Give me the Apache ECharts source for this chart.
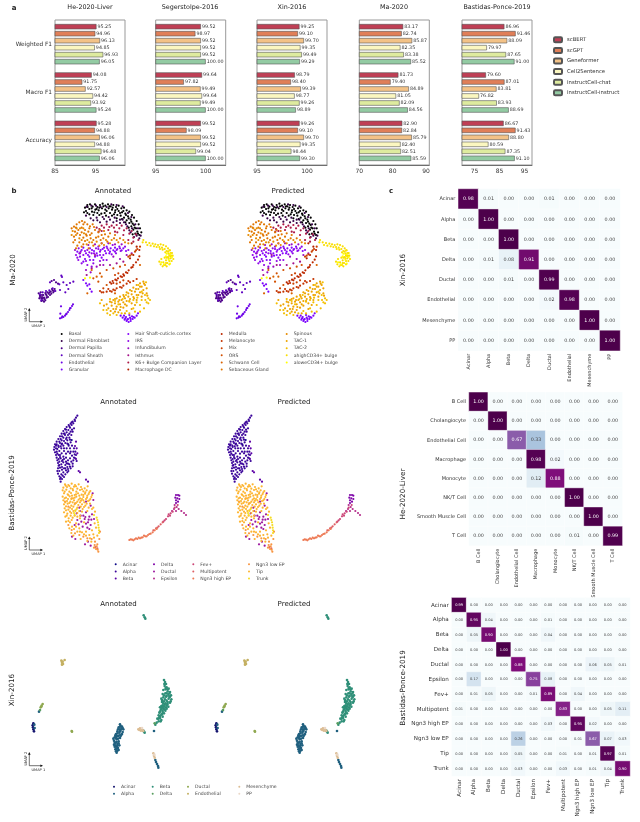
<!DOCTYPE html>
<html><head><meta charset="utf-8"><style>html,body{margin:0;padding:0;background:#fff}#c{width:640px;height:822px}</style>
<script src="https://cdn.jsdelivr.net/npm/echarts@6/dist/echarts.min.js"></script></head>
<body><div id="c"></div>
<script>
// ---- panel a
const metrics=['Weighted F1','Macro F1','Accuracy'];
const models=['scBERT','scGPT','Geneformer','Cell2Sentence','InstructCell-chat','InstructCell-instruct'];
const modelColors=['#bf3f55','#e07f58','#f3c287','#fbf7c0','#deeb9f','#93cba3'];
const heScores=[[95.25,94.96,96.13,94.85,96.93,96.05],[94.08,91.75,92.57,94.42,93.92,95.24],[95.28,94.88,96.06,94.88,96.48,96.06]];
const segScores=[[99.52,98.97,99.52,99.52,99.52,100.00],[99.64,97.82,99.49,99.64,99.49,100.00],[99.52,98.09,99.52,99.52,99.04,100.00]];
const xinScores=[[99.25,99.10,99.70,99.35,99.49,99.29],[98.79,98.40,99.39,98.77,99.26,98.89],[99.26,99.10,99.70,99.35,98.44,99.30]];
const maScores=[[83.17,82.74,85.87,82.35,83.38,85.52],[81.73,79.40,84.89,81.05,82.09,84.56],[82.90,82.84,85.79,82.40,82.51,85.59]];
const bpScores=[[86.96,91.46,88.09,79.97,87.65,91.00],[79.60,87.01,83.81,76.82,83.93,88.69],[86.67,91.43,88.80,80.59,87.35,91.10]];

// ---- panel c
const xinCells=['Acinar','Alpha','Beta','Delta','Ductal','Endothelial','Mesenchyme','PP'];
const xinMatrix=[[.98,.01,0,0,.01,0,0,0],[0,1,0,0,0,0,0,0],[0,0,1,0,0,0,0,0],[0,.01,.08,.91,0,0,0,0],[0,0,.01,0,.99,0,0,0],[0,0,0,0,.02,.98,0,0],[0,0,0,0,0,0,1,0],[0,0,0,0,0,0,0,1]];
const heCells=['B Cell','Cholangiocyte','Endothelial Cell','Macrophage','Monocyte','NK/T Cell','Smooth Muscle Cell','T Cell'];
const heMatrix=[[1,0,0,0,0,0,0,0],[0,1,0,0,0,0,0,0],[0,0,.67,.33,0,0,0,0],[0,0,0,.98,.02,0,0,0],[0,0,0,.12,.88,0,0,0],[0,0,0,0,0,1,0,0],[0,0,0,0,0,0,1,0],[0,0,0,0,0,.01,0,.99]];
const bpCells=['Acinar','Alpha','Beta','Delta','Ductal','Epsilon','Fev+','Multipotent','Ngn3 high EP','Ngn3 low EP','Tip','Trunk'];
const bpMatrix=[[.99,0,0,0,0,0,0,0,0,0,0,0],[0,.95,.04,0,0,0,.01,0,0,0,0,0],[0,.05,.90,0,0,0,.04,0,0,0,0,0],[0,0,0,1,0,0,0,0,0,0,0,0],[0,0,0,0,.88,0,0,0,0,.06,.05,.01],[0,.17,0,0,0,.75,.08,0,0,0,0,0],[0,.01,.05,0,0,.01,.89,0,.04,0,0,0],[.01,0,0,0,0,0,0,.83,0,0,.05,.11],[0,0,0,0,0,0,.03,0,.95,.02,0,0],[0,0,0,0,.26,0,0,0,.01,.67,.07,.03],[0,0,0,0,.05,0,0,.01,0,.01,.97,.01],[0,0,0,0,.03,0,0,.03,0,.01,.04,.90]];
const buPu=['#f7fcfd','#e0ecf4','#bfd3e6','#9ebcda','#8c96c6','#8c6bb1','#88419d','#810f7c','#4d004b'];

// ---- panel b: Ma-2020 embedding, [x,y,x,y,...]
const maNames=['Basal','Dermal Fibroblast','Dermal Papilla','Dermal Sheath','Endothelial','Granular','Hair Shaft-cuticle.cortex','IRS','Infundibulum','Isthmus','K6+ Bulge Companion Layer','Macrophage DC','Medulla','Melanocyte','Mix','ORS','Schwann Cell','Sebaceous Gland','Spinous','TAC-1','TAC-2','ahighCD34+ bulge','aloweCD34+ bulge'];
const maColors=['#000000','#360047','#4d008a','#5e01c1','#6d02e8','#7a03fc','#8505fc','#9008e8','#9a0cc1','#a31189','#ac1847','#b42000','#bc2900','#c43400','#cb4100','#d25000','#d96200','#e07500','#e68c00','#eda400','#f3bf00','#f9de00','#ffff00'];
const maBasal=[255,68,262,60,270,58,278,65,268,72,258,78,285,58,292,66,300,60,308,56,316,62,324,58,332,64,340,60,348,66,356,62,364,70,372,68,380,76,388,80,396,90,402,98,410,108,416,118,420,130,424,142,418,150,412,140,404,128,398,116,392,104,384,94,376,86,366,82,356,78,346,76,336,74,326,70,316,74,306,70,296,76,286,74,276,80,268,88,280,90,292,84,304,86,314,84,330,84,342,88,352,90,362,92,372,98,380,106,388,114,394,124,400,134,406,146,263,66,275,70,283,82,290,72,298,68,310,64,320,78,328,64,338,68,345,82,352,72,360,84,370,78,378,90,386,100,394,110,402,120,408,130,414,146,252,82,262,84,298,90,318,92,336,92,350,100,366,102,376,112,386,128,398,148];
const maFibro=[260,65,274,62,288,62,302,66,320,66,334,58,350,60,368,64,384,84,394,96,406,118,414,130,422,152,410,152,396,130,382,124,372,112,360,104,344,98,326,96,308,96,290,98,272,100,258,92,300,112,320,110,340,112,360,114,378,118,392,142,402,156,280,106,292,106,312,102,330,104,350,108,368,104,388,136,418,160];
const maPapilla=[116,325,120,332,124,340,128,346,134,342,140,332,146,326,152,320,158,316,164,312,130,330,122,322,136,324,150,330,144,336,126,336,118,340,132,350,160,322,155,288,162,285,168,292,174,296,120,336,126,330,132,338,138,328,142,322,156,312,162,318,124,348,128,340,136,346,140,338,148,322,154,326];
const maSheath=[178,298,190,292,200,300,210,294,220,290,196,322,205,312,180,315,150,292,184,272,186,276,120,328,128,322,138,318,148,316,158,310,166,318,124,345];
const maEndo=[180,400,185,398,190,396,195,392,200,386,204,381,208,375,212,369,216,363,219,358,183,364,181,386,187,394,198,388,210,370];
const maGranular=[368,398,374,404,380,408,386,411,392,408,398,402,404,398,410,392,384,402,390,398,378,396,396,394,372,392,250,285,258,295,262,302,270,312,275,320,268,298,388,390,382,404,376,400,392,402,400,396,362,392,414,385];
const maHair=[232,200,245,195,258,205,270,190,282,198,295,185,308,192,320,185,332,190,345,188,358,185,370,190,240,215,255,222,268,215,280,225,292,212,305,218,318,205,330,200,345,200,238,205,250,188,264,210,276,195,290,205,302,195,315,198,328,205,340,196,352,192,365,196,378,198,250,230,270,225,285,215,300,210];
const maIrs=[228,210,236,190,250,210,262,195,275,205,288,190,300,200,312,188,325,195,338,180,350,195,362,198,375,185,385,195,245,235,262,240,280,235,300,228,320,225,235,225,242,200,255,198,268,202,282,205,295,192,310,210,322,190,335,208,348,205,360,190,232,218,258,228,275,245,310,225];
const maInfund=[225,195,240,205,265,180,285,178,305,175,325,175,345,178,365,178,258,255,272,262,290,245,310,240,340,215,360,222,380,210,395,205];
const maIsthmus=[260,270,275,250,285,210,300,240,330,240,350,235,370,230];
const maK6=[290,128,305,122,320,118,335,122,350,120,365,122,380,130,395,138,408,148,415,165,400,170,385,165,370,150,345,140,325,135,305,138,298,132,312,128,328,126,342,128,358,130,372,136,388,146,400,158,352,142,296,140];
const maMacro=[395,175,410,185,418,195,400,210,390,220];
const maMedulla=[330,292,338,288,346,284,354,280,362,274,370,268,378,262,386,256,394,248,400,240,408,232,414,224,418,214,340,294,372,272,334,296,350,286,366,276,382,264,398,246];
const maMelano=[300,318,310,322,320,320,330,318,340,314,350,310,360,306,370,302,380,296,390,292,400,288,410,282,325,312,385,288,305,322,335,320,345,316,365,308];
const maMix=[385,215,395,208,405,200,412,192,420,185,345,270,355,265,350,296,360,292,370,286,310,310,390,212,408,196];
const maOrs=[300,265,320,255,340,250,360,245,375,240,280,280,295,290,320,300];
const maSchwann=[275,255,290,275,305,275,345,325,262,325,420,240];
const maSebaceous=[215,130,222,125,230,118,238,112,246,108,254,112,262,118,270,124,278,118,225,140,235,135,245,128,255,135,265,140,275,145,285,135,295,142,305,150,315,148,325,155,240,150,250,158,260,152,272,160,288,158,302,165,225,165,238,172,250,178,222,155,232,182,345,150,360,160,228,128,250,118,268,130,282,126,300,135,312,138,330,145,342,160,232,145,245,142,258,148,270,150,280,165,295,155,310,160,322,170,220,172,228,190,245,185,255,168,266,190,280,182];
const maSpinous=[218,138,228,150,240,130,252,145,262,165,276,172,290,170,305,175,318,165,335,165,350,165,370,165,385,175,215,150,245,165,260,178,230,130,250,130,238,160,268,172,298,182,312,180,330,175,355,172,375,172];
const maTac1=[320,358,330,350,340,345,350,340,360,335,370,330,380,322,390,315,400,308,410,300,420,295,430,290,325,370,335,362,345,355,355,350,365,345,375,340,385,335,395,328,405,320,415,312,425,305,435,300,340,372,350,365,360,358,370,352,380,348,390,342,400,336,410,330,420,322,430,315,440,310,345,380,360,375,370,368,380,362,395,355,410,345,425,335,440,325,305,345,312,362,335,352,345,342,358,345,372,335,385,325,395,318,408,312,420,305,432,296,332,378,348,372,362,366,375,358,388,348,402,340,415,330,428,325,405,360,395,372,375,385,355,382,442,332];
const maTac2=[330,342,345,348,355,358,368,342,378,330,388,350,400,345,412,338,425,320,435,330,445,340,440,352,420,360,400,370,380,378,365,385,350,390,340,385,420,380,432,370,445,355,300,355,310,375,322,385,415,300,438,292,450,345,330,390,320,375,410,352,425,345,436,345,405,380,388,385];
const maAhigh=[428,172,438,172,448,174,458,176,466,178,474,180,482,178,490,180,498,184,504,190,508,196,512,204,514,212,512,220,508,228,502,234,496,240,488,244,482,238,478,230,490,232,498,226,504,216,506,206,500,198,494,192,486,188,478,186,470,186,462,184,452,182,442,180,430,165,510,196,516,204,518,212,520,222,515,228,508,238,500,244,492,240,484,222,494,218,500,218,508,212,496,202,488,194,480,192,504,200,512,214,506,220,498,234];
const maAlow=[510,208,516,216,510,236,492,238,484,232,500,206,506,224,498,214,255,280,270,278];
const maPoints=[maBasal,maFibro,maPapilla,maSheath,maEndo,maGranular,maHair,maIrs,maInfund,maIsthmus,maK6,maMacro,maMedulla,maMelano,maMix,maOrs,maSchwann,maSebaceous,maSpinous,maTac1,maTac2,maAhigh,maAlow];

// ---- panel b: Bastidas-Ponce-2019 embedding
const bpColors=['#0d0887','#3a049a','#5c01a6','#7e03a8','#9c179e','#b52f8c','#cc4778','#de5f65','#ed7953','#f89540','#fdb42f','#f5dc20'];
const bpAcinar=[215,165,205,178];
const bpAlpha=[232,92,228,98,224,104,218,110,212,116,206,120,200,126,195,132,190,138,185,146,180,154,175,162,170,170,165,178,163,186,162,194,165,202,168,210,170,218,172,226,174,234,176,242,174,250,172,258,174,266,178,274,180,282,182,290,215,120,210,128,205,135,200,142,195,150,190,158,185,166,180,174,175,182,172,192,178,198,184,190,190,182,196,174,202,166,208,158,214,150,218,140,222,130,220,115,185,205,192,198,198,206,204,200,210,190,216,182,222,190,226,200,228,210,222,218,216,212,210,220,204,226,198,218,190,215,182,220,178,230,184,238,190,232,196,240,202,246,208,238,214,230,220,226,226,220,230,228,180,248,186,254,192,250,198,256,190,262,184,268,178,258,196,268,205,258,212,250,218,244,168,182,172,206,194,146,204,150,212,140,180,210,188,225,200,235,210,205,185,178,176,222,225,108,215,112,208,124,198,134,192,146,186,154,182,162,178,170,170,178,168,190,170,200,176,210,180,216,186,228,192,222,198,230,204,236,178,240,186,246,196,250,204,252,182,278,188,272,176,186,182,184,192,190,200,190,206,182,212,172,210,164,200,158,192,168,186,176,216,134,208,146,198,162,202,176,220,200,212,200,224,208,218,236,210,245,202,262,192,276,186,282];
const bpBeta=[225,183,230,190,228,170,232,205,228,222,236,258,240,262,258,284,264,290];
const bpDelta=[528,330,534,330,538,332,526,338,532,340,538,342,528,346,534,350,528,354];
const bpDuctal=[230,385,240,378,250,392,258,382,268,395,276,388,232,405,244,410,254,402,264,412,274,404,248,425,262,428,272,420,224,420,216,455,226,462,255,478,264,470,272,482,278,325,280,345,272,362,258,350,238,368,282,402,242,392,256,396,266,404,236,418,258,416,268,432];
const bpEpsilon=[524,360,530,366,536,372,544,378,552,384,558,390,516,378,522,372,528,378];
const bpFev=[512,385,504,394,518,380,498,402,490,410,510,392,524,368,533,360,506,388,494,406];
const bpMulti=[482,418,476,424,468,430,460,436,488,412,292,490,286,486,472,428];
const bpHigh=[388,465,396,464,404,463,412,462,420,460,428,457,436,454,444,450,452,446,458,442,464,436,470,432,400,466,416,458,432,452,392,463,408,460,424,458,440,454,448,447];
const bpLow=[195,350,205,365,215,340,225,355,205,420,215,435,225,445,238,450,250,455,262,460,275,462,285,470,292,478,288,492,295,500,284,480,298,462,300,440,290,484,293,494,282,488];
const bpTip=[195,298,205,300,215,296,225,300,236,298,190,308,201,306,212,310,222,305,232,311,243,306,254,310,263,304,188,316,199,314,208,320,219,316,229,320,240,315,250,319,260,316,271,318,192,325,203,328,213,324,224,330,234,325,245,329,255,326,266,327,276,330,188,335,198,338,209,334,219,340,229,335,240,340,250,336,261,338,271,342,190,346,201,348,211,350,222,346,232,350,243,347,253,352,264,348,192,358,203,356,214,362,224,358,235,360,246,358,256,362,266,368,276,372,194,370,205,374,216,372,226,376,238,378,248,372,280,368,192,382,202,386,214,384,224,392,240,392,262,378,285,380,196,395,206,400,218,398,240,400,252,412,284,415,198,410,210,412,222,432,238,430,258,440,276,436,288,428,208,430,214,444,232,440,246,442,268,450,280,448,292,452,220,452,242,462,258,452,270,460,282,458,197,302,208,303,218,312,228,304,246,313,256,322,268,322,194,320,205,330,216,332,228,328,238,332,250,330,262,332,274,336,194,340,204,342,214,342,224,338,236,344,246,342,258,342,268,346,196,352,208,354,218,352,228,354,240,352,250,346,260,356,270,356,198,364,210,368,220,365,232,368,242,365,252,366,198,376,210,380,220,378,232,384,246,380,200,392,212,392,232,395,205,408,215,405,228,415,216,425,228,425,240,440,252,448,262,468,274,470];
const bpTrunk=[226,378,230,372,222,384,290,398,292,405,294,412,295,420,296,428,297,436,297,444,224,390,282,390];
const bpPoints=[bpAcinar,bpAlpha,bpBeta,bpDelta,bpDuctal,bpEpsilon,bpFev,bpMulti,bpHigh,bpLow,bpTip,bpTrunk];

// ---- panel b: Xin-2016 embedding
const xinColors=['#14146e','#20607f','#2f8f78','#5a9e60','#8fa850','#c4b062','#dcbd94','#ead8c8'];
const xAcinar=[100,400,98,406,99,412,100,418,102,424];
const xAlpha=[360,403,366,410,356,412,370,418,362,420,352,424,368,426,358,428,348,432,364,434,354,438,344,442,360,444,350,448,342,452,356,454,346,458,352,462,342,464,358,466,348,470,354,474,346,478,352,482,350,488,356,480,362,408,364,416,358,418,348,438,340,446,466,510,468,516,471,522,474,528,475,533,462,423,103,404,104,414,117,365,360,410,368,414,354,418,360,424,366,432,352,430,358,436,346,436,362,438,348,444,354,446,356,460,344,458,350,456,346,466,352,468,350,476,344,470,348,484];
const xBeta=[431,76,434,82,436,86,492,270,495,276,498,282,494,288,500,292,506,296,497,298,490,300,503,304,510,306,496,310,488,312,505,314,513,316,498,320,490,322,484,326,506,326,514,328,500,332,492,334,486,336,510,338,503,342,494,344,484,348,480,352,498,352,490,356,505,350,482,360,496,362,488,366,478,368,492,370,484,374,476,376,488,380,480,384,472,386,484,390,476,394,470,398,466,404,432,425,434,428,430,422,500,310,508,320,490,340,487,352,478,382,493,282,497,294,503,298,508,310,492,316,500,318,510,320,486,330,495,328,503,336,512,334,497,340,488,346,500,346,492,350,484,356,500,356,488,362,480,365,494,358,486,372,480,378,476,386,482,394];
const xDelta=[464,400,120,360];
const xDuctal=[122,352,125,347,128,342,124,350,215,423,216,425];
const xEndo=[184,212,186,218,189,222,194,210,188,215,186,224];
const xMesen=[415,418,420,415,425,417,428,420,423,422,418,420,430,423,460,490,462,497,464,503];
const xPP=[426,414,463,494];
const xPoints=[xAcinar,xAlpha,xBeta,xDelta,xDuctal,xEndo,xMesen,xPP];

const F='"DejaVu Sans"',TC='#333';
const grids=[],xAxes=[],yAxes=[],series=[],legends=[],titles=[],graphics=[];
function addAxes(g,x,y){grids.push(g);const i=grids.length-1;xAxes.push(Object.assign({gridIndex:i},x));yAxes.push(Object.assign({gridIndex:i},y));return i;}
const pairs=f=>{const o=[];for(let i=0;i<f.length;i+=2)o.push([f[i],f[i+1]]);return o;};
const label=(text,x,y,fs,extra)=>titles.push({text,left:x,top:y-fs*0.6,padding:0,textAlign:'center',textStyle:Object.assign({fontSize:fs,fontWeight:'normal',color:'#222',fontFamily:F},extra||{})});

// bars
const barPanels=[
 {t:'He-2020-Liver',s:heScores,l:55,min:85,max:102.3,ticks:[85,90,95,100],labs:[85,95],tx:90},
 {t:'Segerstolpe-2016',s:segScores,l:155.7,min:95,max:102,ticks:[95,100],labs:[95,100],tx:190},
 {t:'Xin-2016',s:xinScores,l:257,min:95,max:102,ticks:[95,100],labs:[95,100],tx:292},
 {t:'Ma-2020',s:maScores,l:359.3,min:70,max:91,ticks:[70,80,90],labs:[70,80,90],tx:394},
 {t:'Bastidas-Ponce-2019',s:bpScores,l:462,min:70,max:98,ticks:[75,85,95],labs:[75,85,95],tx:497}];
barPanels.forEach((p,k)=>{
 const g=addAxes({left:p.l,top:20,width:70,height:145,show:true,borderColor:'#999',borderWidth:1},
  {type:'value',min:p.min,max:p.max,splitLine:{show:false},axisLine:{show:true,lineStyle:{color:'#555',width:.8}},
   axisTick:{length:1.5,lineStyle:{color:'#444',width:.5},customValues:p.ticks},axisLabel:{fontSize:6,margin:3,color:TC,customValues:p.labs,fontFamily:F}},
  {type:'category',inverse:true,data:metrics,axisLine:{show:false},axisTick:{length:1.5,lineStyle:{color:'#444',width:.5},alignWithLabel:true},
   axisLabel:{show:k===0,fontSize:5.8,margin:3,color:TC,interval:0,fontFamily:F}});
 models.forEach((m,j)=>series.push({type:'bar',name:m,xAxisIndex:g,yAxisIndex:g,data:p.s.map(r=>r[j]),barWidth:5.3,barGap:'32%',
  itemStyle:{color:modelColors[j],borderColor:'#555',borderWidth:.6},
  label:{show:true,position:'right',distance:1,fontSize:4.8,color:'#333',fontFamily:F,formatter:o=>o.value.toFixed(2)},silent:true,animation:false}));
 label(p.t,p.tx,8,6.4);
});
legends.push({left:553,top:36.3,padding:0,orient:'vertical',data:models,itemWidth:8,itemHeight:5,itemGap:3.6,selectedMode:false,textStyle:{fontSize:5.3,color:TC,fontFamily:F,lineHeight:6}});

// scatter panels
function scatter(cfg){
 cfg.lefts.forEach(l=>{
  const g=addAxes({left:l,top:cfg.top,width:cfg.w,height:cfg.h,show:false},
   {type:'value',min:cfg.x[0],max:cfg.x[1],show:false},{type:'value',inverse:true,min:cfg.y[0],max:cfg.y[1],show:false});
  cfg.points.forEach((pt,i)=>series.push({type:'scatter',name:cfg.names[i],xAxisIndex:g,yAxisIndex:g,data:pairs(pt),symbolSize:cfg.size,
   itemStyle:{color:cfg.colors[i],opacity:1},silent:true,animation:false}));
 });
 cfg.cols.forEach(c=>legends.push({left:c.x,top:c.y,padding:0,orient:'vertical',itemWidth:2,itemHeight:2,itemGap:cfg.gap,icon:'circle',selectedMode:false,
  data:c.names.map(n=>({name:n,itemStyle:{color:cfg.colors[cfg.names.indexOf(n)]}})),
  textStyle:{fontSize:4.6,color:'#444',fontFamily:F,lineHeight:6,padding:[0,0,0,1]}}));
}
scatter({names:maNames,colors:maColors,points:maPoints,lefts:[30,206.7],top:190,w:150,h:145,x:[90,540],y:[15,450],size:2.2,gap:1.1,
 cols:[{x:60.7,y:331,names:maNames.slice(0,6)},{x:127.3,y:331,names:maNames.slice(6,12)},{x:220.7,y:331,names:maNames.slice(12,18)},{x:285.7,y:331,names:maNames.slice(18,23)}]});
scatter({names:bpCells,colors:bpColors,points:bpPoints,lefts:[40,214],top:405,w:160,h:155,x:[120,600],y:[60,525],size:2.2,gap:1.1,
 cols:[{x:114.7,y:561.3,names:bpCells.slice(0,3)},{x:153,y:561.3,names:bpCells.slice(3,6)},{x:192.3,y:561.3,names:bpCells.slice(6,9)},{x:248,y:561.3,names:bpCells.slice(9,12)}]});
scatter({names:xinCells,colors:xinColors,points:xPoints,lefts:[25,208],top:610,w:165,h:170,x:[75,570],y:[60,570],size:2.6,gap:1.1,
 cols:[{x:113,y:783.7,names:xinCells.slice(0,2)},{x:151.7,y:783.7,names:xinCells.slice(2,4)},{x:187,y:783.7,names:xinCells.slice(4,6)},{x:238.3,y:783.7,names:xinCells.slice(6,8)}]});

// heatmaps
const heatIdx=[];
function heat(cells,m,l,t,size,fsVal,fsLab){
 const g=addAxes({left:l,top:t,width:size,height:size},
  {type:'category',data:cells,splitLine:{show:false},splitArea:{show:false},axisLine:{show:false},axisTick:{length:1.5,lineStyle:{color:'#444',width:.5}},axisLabel:{rotate:90,interval:0,fontSize:fsLab,margin:3,color:TC,fontFamily:F}},
  {type:'category',inverse:true,data:cells,splitLine:{show:false},splitArea:{show:false},axisLine:{show:false},axisTick:{length:1.5,lineStyle:{color:'#444',width:.5}},axisLabel:{interval:0,fontSize:fsLab,margin:3,color:TC,fontFamily:F}});
 const data=[];m.forEach((r,y)=>r.forEach((v,x)=>data.push({value:[x,y,v],label:{color:v>.5?'#fff':'#444'}})));
 heatIdx.push(series.length);
 series.push({type:'heatmap',xAxisIndex:g,yAxisIndex:g,data,itemStyle:{borderColor:'#fff',borderWidth:.4},
  label:{show:true,fontSize:fsVal,fontFamily:F,formatter:o=>o.value[2].toFixed(2)},silent:true,animation:false,progressive:0});
}
heat(xinCells,xinMatrix,458.3,189,161.7,4.8,5);
heat(heCells,heMatrix,469,392.3,153.3,4.8,5);
heat(bpCells,bpMatrix,451.7,597.7,178.3,3.6,5.6);

// labels
label('Annotated',113,192,7);label('Predicted',288,192,7);
label('Annotated',118.5,403,7);label('Predicted',294,403,7);
label('Annotated',118.5,605,7);label('Predicted',294,605,7);
label('a',14,9,7,{fontWeight:'bold'});label('b',14,192,7,{fontWeight:'bold'});label('c',391,192,7,{fontWeight:'bold'});
[['Ma-2020',13,270],['Bastidas-Ponce-2019',12.5,493],['Xin-2016',12.5,690],['Xin-2016',403,270],['He-2020-Liver',403,494],['Bastidas-Ponce-2019',403,688]]
 .forEach(a=>graphics.push({type:'text',x:a[1],y:a[2],rotation:Math.PI/2,silent:true,style:{text:a[0],font:'7.2px '+F,fill:'#222',align:'center',verticalAlign:'middle'}}));
[321.7,550,765.7].forEach(y=>{
 graphics.push({type:'polyline',silent:true,shape:{points:[[29.3,y-12],[29.3,y],[41.5,y]]},style:{stroke:'#111',lineWidth:.6,fill:null}});
 graphics.push({type:'polygon',silent:true,shape:{points:[[29.3,y-13.6],[28,y-11],[30.6,y-11]]},style:{fill:'#111'}});
 graphics.push({type:'polygon',silent:true,shape:{points:[[43,y],[40.4,y-1.3],[40.4,y+1.3]]},style:{fill:'#111'}});
 graphics.push({type:'text',silent:true,x:38.3,y:y+4.2,style:{text:'UMAP 1',font:'3.6px '+F,fill:'#222',align:'center',verticalAlign:'middle'}});
 graphics.push({type:'text',silent:true,x:25.6,y:y-7,rotation:Math.PI/2,style:{text:'UMAP 2',font:'3.6px '+F,fill:'#222',align:'center',verticalAlign:'middle'}});
});

const chart=echarts.init(document.getElementById('c'),null,{width:640,height:822});
chart.setOption({animation:false,backgroundColor:'#fff',textStyle:{fontFamily:F},title:titles,legend:legends,grid:grids,xAxis:xAxes,yAxis:yAxes,series,
 visualMap:{show:false,min:0,max:1,dimension:2,seriesIndex:heatIdx,inRange:{color:buPu}},graphic:{elements:graphics}});
</script></body></html>
